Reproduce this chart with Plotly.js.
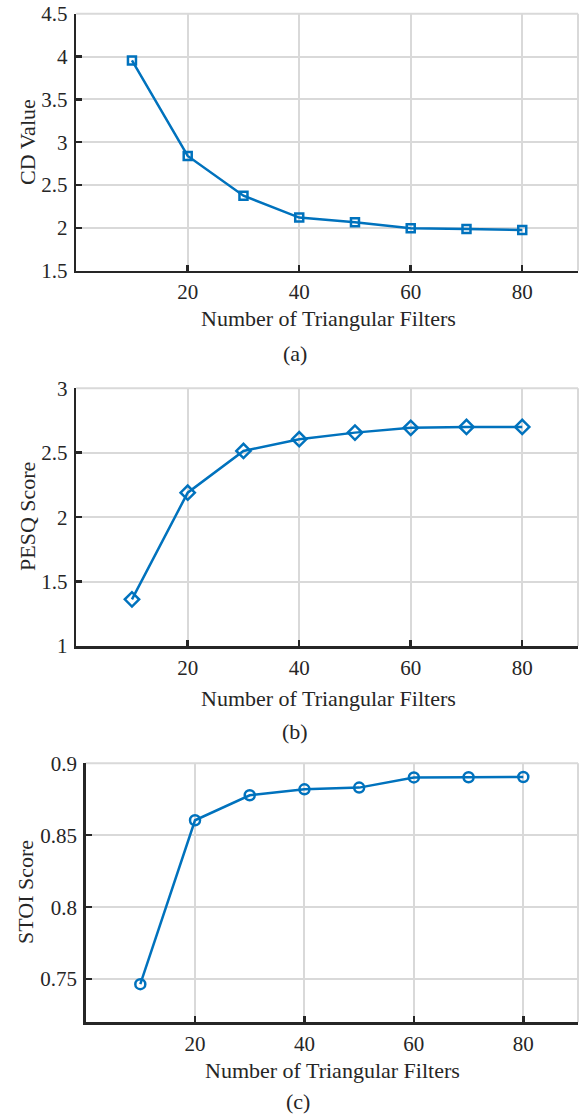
<!DOCTYPE html>
<html>
<head>
<meta charset="utf-8">
<script src="https://cdn.plot.ly/plotly-3.0.1.min.js"></script>
<style>html,body{margin:0;padding:0;background:#fff;}#chart{width:584px;height:1116px;}</style>
</head>
<body>
<div id="chart"></div>
<script>
// ---- data ----
const filters = [10, 20, 30, 40, 50, 60, 70, 80];
const cdValues = [3.955, 2.84, 2.375, 2.12, 2.065, 1.995, 1.987, 1.975];
const pesqScores = [1.362, 2.19, 2.514, 2.605, 2.656, 2.693, 2.700, 2.700];
const stoiScores = [0.7465, 0.8604, 0.8778, 0.8819, 0.8831, 0.8902, 0.8903, 0.8905];

const xTicks = [20, 40, 60, 80];
const cdTicks = [1.5, 2, 2.5, 3, 3.5, 4, 4.5];
const cdTickText = ['1.5', '2', '2.5', '3', '3.5', '4', '4.5'];
const pesqTicks = [1, 1.5, 2, 2.5, 3];
const pesqTickText = ['1', '1.5', '2', '2.5', '3'];
const stoiTicks = [0.75, 0.8, 0.85, 0.9];
const stoiTickText = ['0.75', '0.8', '0.85', '0.9'];

const xTitle = 'Number of Triangular Filters';
const yTitles = ['CD Value', 'PESQ Score', 'STOI Score'];
const panelLabels = ['(a)', '(b)', '(c)'];

// ---- style ----
const W = 584, H = 1116;
const blue = '#0072BD';
const dark = '#262626';
const gridC = '#d9d9d9';
const fontFam = 'Liberation Serif, serif';
const tickSize = 21;
const titleSize = 22;

const px = v => v / W;
const py = v => 1 - v / H;

// panel geometry in pixels: left, right, top, bottom
const panels = [
  {l: 76.2, r: 578, t: 13.7, b: 270.7},
  {l: 76.2, r: 578, t: 388.3, b: 646},
  {l: 85.6, r: 578, t: 763.3, b: 1022.3}
];

function trace(y, sym, size, i) {
  return {
    x: filters, y: y,
    xaxis: i === 0 ? 'x' : 'x' + (i + 1),
    yaxis: i === 0 ? 'y' : 'y' + (i + 1),
    mode: 'lines+markers',
    line: {color: blue, width: 2.5},
    marker: {symbol: sym, size: size, color: blue, line: {color: blue, width: 2.5}},
    cliponaxis: false,
    hoverinfo: 'skip'
  };
}

const data = [
  trace(cdValues, 'square-open', 8, 0),
  trace(pesqScores, 'diamond-open', 11, 1),
  trace(stoiScores, 'circle-open', 10, 2)
];

function xaxis(p, anchor) {
  return {
    domain: [px(p.l), px(p.r)], anchor: anchor,
    range: [0, 90], tickvals: xTicks,
    showgrid: true, gridcolor: gridC, gridwidth: 2,
    zeroline: false, showline: true, linecolor: dark, linewidth: 2.5,
    ticks: 'inside', ticklen: 6, tickwidth: 2.5, tickcolor: dark,
    tickfont: {family: fontFam, size: tickSize, color: dark},
    ticklabelstandoff: 1,
    fixedrange: true
  };
}
function yaxis(p, anchor, range, vals, text) {
  return {
    domain: [py(p.b), py(p.t)], anchor: anchor,
    range: range, tickvals: vals, ticktext: text,
    showgrid: true, gridcolor: gridC, gridwidth: 2,
    zeroline: false, showline: true, linecolor: dark, linewidth: 2.5,
    ticks: 'inside', ticklen: 6, tickwidth: 2.5, tickcolor: dark,
    tickfont: {family: fontFam, size: tickSize, color: dark},
    ticklabelstandoff: 2,
    fixedrange: true
  };
}

const annotations = [];
const shapes = [];
const titleY = [318.3, 698, 1070];
const labelY = [354, 731.7, 1101.7];
const yTitleY = [142, 517, 892];
panels.forEach((p, i) => {
  annotations.push({xref: 'paper', yref: 'paper', x: px(i === 2 ? 332 : 328), y: py(titleY[i]), text: xTitle,
    showarrow: false, xanchor: 'center', yanchor: 'middle', font: {family: fontFam, size: titleSize, color: dark}});
  annotations.push({xref: 'paper', yref: 'paper', x: px(i === 2 ? 298 : 295), y: py(labelY[i]), text: panelLabels[i],
    showarrow: false, xanchor: 'center', yanchor: 'middle', font: {family: fontFam, size: titleSize, color: dark}});
  annotations.push({xref: 'paper', yref: 'paper', x: px(i === 2 ? 25 : 27), y: py(yTitleY[i]), text: yTitles[i],
    showarrow: false, textangle: -90, xanchor: 'center', yanchor: 'middle', font: {family: fontFam, size: titleSize, color: dark}});
  // light box edges (top and right)
  const xr = i === 0 ? 'x domain' : 'x' + (i + 1) + ' domain';
  const yr = i === 0 ? 'y domain' : 'y' + (i + 1) + ' domain';
  shapes.push({type: 'line', xref: xr, yref: yr, x0: 1, x1: 1, y0: 0, y1: 1, line: {color: gridC, width: 2}, layer: 'below'});
  shapes.push({type: 'line', xref: xr, yref: yr, x0: 0, x1: 1, y0: 1, y1: 1, line: {color: gridC, width: 2}, layer: 'below'});
});

const layout = {
  width: W, height: H,
  margin: {l: 0, r: 0, t: 0, b: 0},
  paper_bgcolor: '#fff', plot_bgcolor: '#fff',
  showlegend: false,
  xaxis: xaxis(panels[0], 'y'),
  yaxis: yaxis(panels[0], 'x', [1.5, 4.5], cdTicks, cdTickText),
  xaxis2: xaxis(panels[1], 'y2'),
  yaxis2: yaxis(panels[1], 'x2', [1, 3], pesqTicks, pesqTickText),
  xaxis3: xaxis(panels[2], 'y3'),
  yaxis3: yaxis(panels[2], 'x3', [0.72, 0.9], stoiTicks, stoiTickText),
  annotations: annotations,
  shapes: shapes
};

Plotly.newPlot('chart', data, layout, {displayModeBar: false, staticPlot: true});
</script>
</body>
</html>
